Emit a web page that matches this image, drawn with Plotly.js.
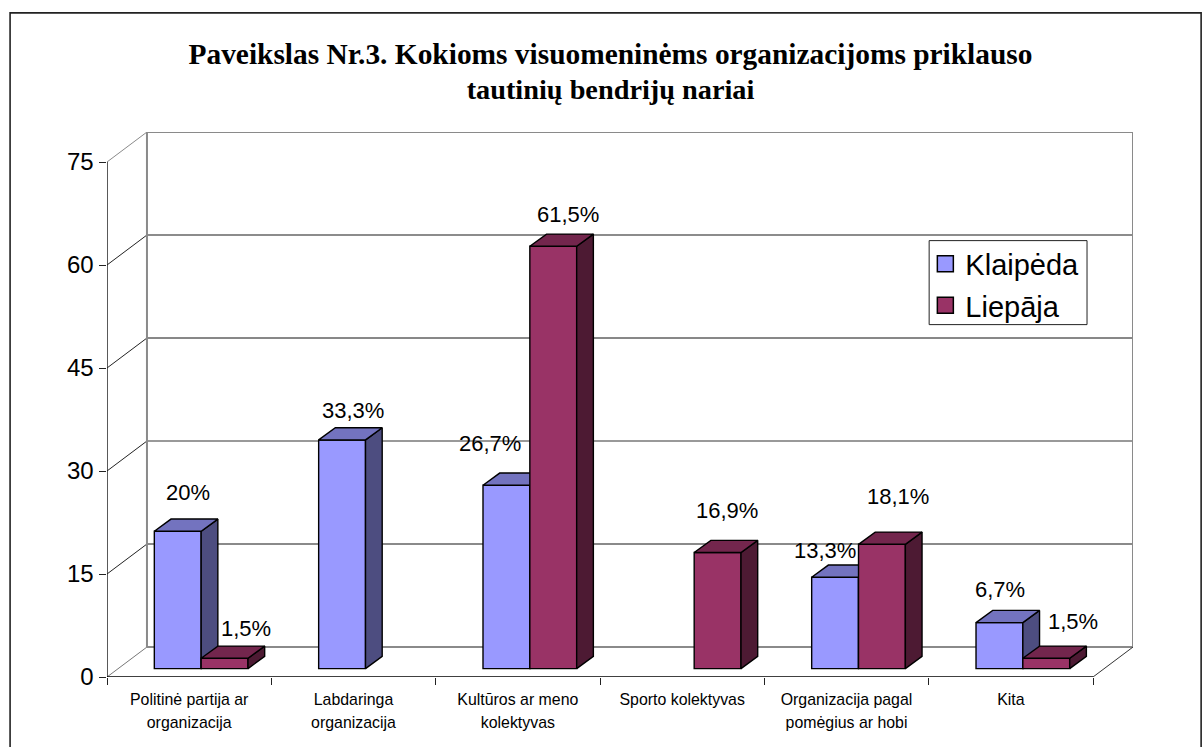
<!DOCTYPE html>
<html>
<head>
<meta charset="utf-8">
<script src="https://cdn.plot.ly/plotly-3.0.1.min.js"></script>
<style>html,body{margin:0;padding:0;background:#fff;overflow:hidden}#chart{width:1204px;height:747px}</style>
</head>
<body>
<div id="chart"></div>
<script>
const categories = [
  ["Politinė partija ar", "organizacija"],
  ["Labdaringa", "organizacija"],
  ["Kultūros ar meno", "kolektyvas"],
  ["Sporto kolektyvas"],
  ["Organizacija pagal", "pomėgius ar hobi"],
  ["Kita"]
];
const klaipeda = [20, 33.3, 26.7, null, 13.3, 6.7];
const liepaja = [1.5, null, 61.5, 16.9, 18.1, 1.5];
const yTicks = [0, 15, 30, 45, 60, 75];
const titleLines = ["Paveikslas Nr.3. Kokioms visuomeninėms organizacijoms priklauso", "tautinių bendrijų nariai"];
const titleSizes = [29.4, 28.3];
const gridColors = ["#8a8a8a", "#8a8a8a", "#777777", "#111111", "#666666", "#8a8a8a"];
const gridWidths = [2, 2, 1.6, 1, 1.6, 2];
const diagColors = ["#777777", "#222222", "#222222", "#222222", "#222222", "#8a8a8a"];

// label nudges in pixels [x, y]
const klaipedaNudge = [[10, 39], [11, 29], [-16, 42], null, [-10, 27], [1, 33]];
const liepajaNudge = [[21, 30], null, [15, 32], [9, 42], [16, 48], [27, 37]];

const catPx = 164.47, unitPx = 6.867;
const depthX = 40 / catPx, depthY = 30 / unitPx;      // wall depth in data units
const floorX = 12 / catPx, floorY = 8.4 / unitPx;     // where the bars stand on the floor
const barDX = 16.7 / catPx, barDY = 12.2 / unitPx;    // bar depth
const barW = 0.285;

const plotW = (6 + depthX) * catPx, plotH = (75 + depthY) * unitPx;
const left = 106.5, bottomY = 676.7;

function wallTraces() {
  const out = [];
  yTicks.forEach((v, i) => {
    out.push({x: [depthX, 6 + depthX], y: [v + depthY, v + depthY], mode: "lines", line: {color: gridColors[i], width: gridWidths[i]}, hoverinfo: "skip", showlegend: false});
    out.push({x: [0, depthX], y: [v, v + depthY], mode: "lines", line: {color: diagColors[i], width: 1}, hoverinfo: "skip", showlegend: false});
  });
  out.push({x: [depthX, depthX], y: [depthY, 75 + depthY], mode: "lines", line: {color: "#8a8a8a", width: 2}, hoverinfo: "skip", showlegend: false});
  out.push({x: [6 + depthX, 6 + depthX], y: [depthY, 75 + depthY], mode: "lines", line: {color: "#8a8a8a", width: 2}, hoverinfo: "skip", showlegend: false});
  out.push({x: [6, 6 + depthX], y: [0, depthY], mode: "lines", line: {color: "#333333", width: 1}, hoverinfo: "skip", showlegend: false});
  out.push({x: [0, 0], y: [0, 75], mode: "lines", line: {color: "#222222", width: 1.5}, hoverinfo: "skip", showlegend: false});
  out.push({x: [0, 6], y: [0, 0], mode: "lines", line: {color: "#000000", width: 1.5}, hoverinfo: "skip", showlegend: false});
  return out;
}

function seriesTraces(name, values, offset, front, top, side, xa, ya) {
  const xs = [], ys = [], tx = [], ty = [], sx = [], sy = [];
  values.forEach((v, i) => {
    if (v === null) return;
    const c = i + offset, l = c - barW / 2, r = c + barW / 2, h = v + floorY;
    xs.push(c); ys.push(v);
    tx.push(l, l + barDX, r + barDX, r, l, null);
    ty.push(h, h + barDY, h + barDY, h, h, null);
    sx.push(r, r + barDX, r + barDX, r, r, null);
    sy.push(floorY, floorY + barDY, h + barDY, h, floorY, null);
  });
  const edge = {color: "#000000", width: 1.4};
  return [
    {type: "bar", name: name, x: xs, y: ys, base: ys.map(() => floorY), width: barW, xaxis: xa, yaxis: ya,
     marker: {color: front, line: edge}, showlegend: false, hoverinfo: "skip"},
    {x: sx, y: sy, mode: "lines", fill: "toself", fillcolor: side, line: edge, xaxis: xa, yaxis: ya, showlegend: false, hoverinfo: "skip"},
    {x: tx, y: ty, mode: "lines", fill: "toself", fillcolor: top, line: edge, xaxis: xa, yaxis: ya, showlegend: false, hoverinfo: "skip"}
  ];
}

function legendTrace(name, color) {
  return {x: [null], y: [null], name: name, legendgroup: name, mode: "markers",
          marker: {symbol: "square", size: 16, color: color, line: {color: "#000000", width: 1.5}}};
}

function labels(values, nudges, offset) {
  const out = [];
  values.forEach((v, i) => {
    if (v === null) return;
    out.push({x: i + offset, y: v + floorY, xref: "x", yref: "y", xanchor: "center", yanchor: "middle",
      text: String(v).replace(".", ",") + "%", showarrow: false, xshift: nudges[i][0], yshift: nudges[i][1],
      font: {family: "Liberation Sans", size: 22, color: "#000000"}});
  });
  return out;
}

const kOffset = 0.5 + floorX - barW / 2, lOffset = 0.5 + floorX + barW / 2;
const traces = [
  ...wallTraces(),
  ...seriesTraces("Klaipėda", klaipeda, kOffset, "#9999FF", "#7373BF", "#4D4D80", "x2", "y2"),
  ...seriesTraces("Liepāja", liepaja, lOffset, "#993366", "#73264D", "#4D1A33", "x3", "y3"),
  legendTrace("Klaipėda", "#9999FF"),
  legendTrace("Liepāja", "#993366")
];

const xRange = [0, 6 + depthX], yRange = [0, 75 + depthY];
const hiddenX = {overlaying: "x", range: xRange, visible: false, fixedrange: true};
const hiddenY = {overlaying: "y", range: yRange, visible: false, fixedrange: true};
const px = v => (v - left) / plotW, py = v => (bottomY - v) / plotH;

const layout = {
  width: 1204, height: 747,
  margin: {l: left, r: 1204 - left - plotW, t: bottomY - plotH, b: 747 - bottomY, pad: 0, autoexpand: false},
  paper_bgcolor: "#ffffff", plot_bgcolor: "rgba(0,0,0,0)",
  barmode: "overlay",
  title: {text: titleLines.map((t, i) => `<span style="font-size:${titleSizes[i]}px">${t}</span>`).join("<br>"),
    font: {family: "Liberation Serif", size: 27.4, weight: 700, color: "#000000"},
    x: 610.5 / 1204, xref: "container", xanchor: "center", y: 0.9145, yref: "container", yanchor: "top"},
  xaxis: {range: xRange, showgrid: false, zeroline: false, showline: false, fixedrange: true,
    tickmode: "array", tickvals: categories.map((c, i) => i + 0.5), ticks: "",
    ticktext: categories.map(c => c.map(t => `<span style="font-size:15.9px">${t}</span>`).join("<br>")),
    tickangle: 0, tickfont: {family: "Liberation Sans", size: 17.7, color: "#000000"}, ticklabelstandoff: 9,
    minor: {tickmode: "array", tickvals: [0, 1, 2, 3, 4, 5, 6], ticks: "outside", ticklen: 7, tickwidth: 1, tickcolor: "#222222", showgrid: false}},
  yaxis: {range: yRange, showgrid: false, zeroline: false, showline: false, fixedrange: true,
    tickmode: "array", tickvals: yTicks, ticktext: yTicks.map(String), ticks: "outside", ticklen: 7.5, tickwidth: 1, tickcolor: "#222222",
    tickfont: {family: "Liberation Sans", size: 24, color: "#000000"}},
  xaxis2: hiddenX, yaxis2: hiddenY, xaxis3: hiddenX, yaxis3: hiddenY,
  legend: {x: px(925.5), y: py(238), xanchor: "left", yanchor: "top", bgcolor: "rgba(0,0,0,0)", borderwidth: 0,
    font: {family: "Liberation Sans", size: 29, color: "#000000"}, itemsizing: "trace", tracegroupgap: 1, itemclick: false, itemdoubleclick: false},
  annotations: [...labels(klaipeda, klaipedaNudge, kOffset), ...labels(liepaja, liepajaNudge, lOffset)],
  shapes: [
    {type: "rect", xref: "paper", yref: "paper", layer: "below",
     x0: px(9.5), x1: px(1201.5), y0: py(760), y1: py(12.5), line: {color: "#222222", width: 1.6}, fillcolor: "rgba(0,0,0,0)"},
    {type: "rect", xref: "paper", yref: "paper", layer: "above",
     x0: px(929.3), x1: px(1087.3), y0: py(324.3), y1: py(240.3), line: {color: "#222222", width: 1}, fillcolor: "#ffffff"}
  ],
  showlegend: true, hovermode: false
};

Plotly.newPlot("chart", traces, layout, {displayModeBar: false, staticPlot: true});
</script>
</body>
</html>
